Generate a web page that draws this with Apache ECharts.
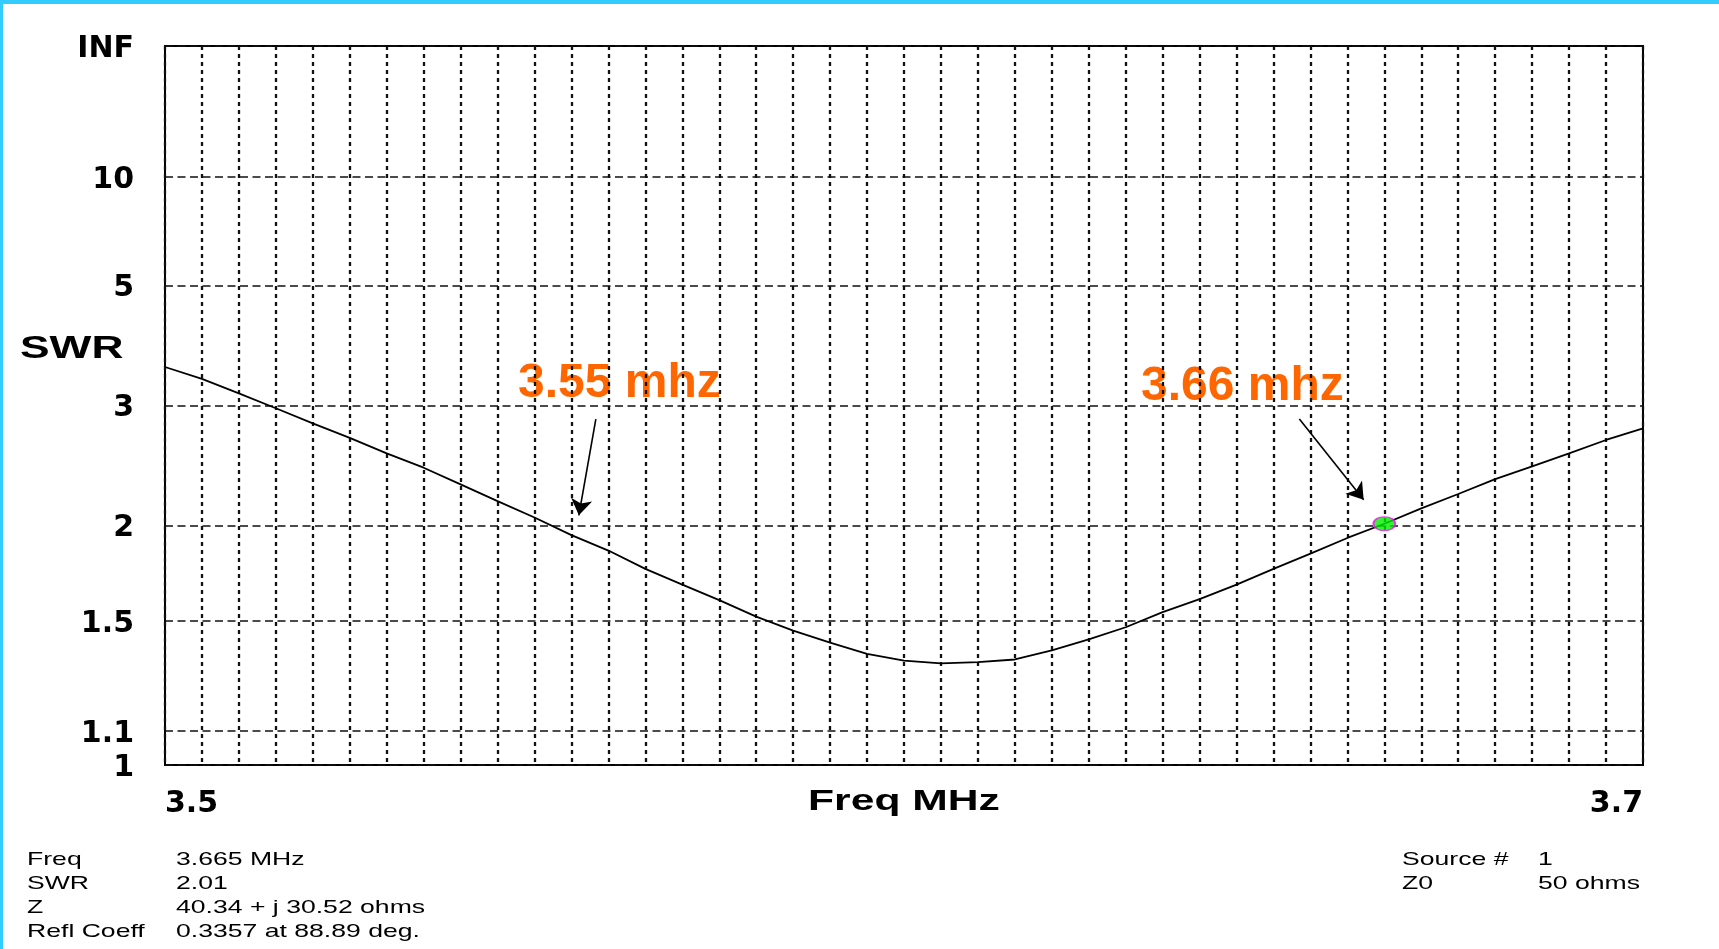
<!DOCTYPE html>
<html><head><meta charset="utf-8">
<script src="https://cdn.jsdelivr.net/npm/echarts@6/dist/echarts.min.js"></script>
<style>
html,body{margin:0;padding:0;background:#fff;overflow:hidden;}
#chart{position:absolute;left:0;top:0;width:1719px;height:949px;}
#bt{position:absolute;left:0;top:0;width:1719px;height:4px;background:#33CCFF;}
#bl{position:absolute;left:0;top:0;width:3px;height:949px;background:#33CCFF;}
</style></head><body>
<div id="chart"></div><div id="bt"></div><div id="bl"></div>
<script>
// ---- data ----
const freqs = [3.500,3.505,3.510,3.515,3.520,3.525,3.530,3.535,3.540,3.545,
               3.550,3.555,3.560,3.565,3.570,3.575,3.580,3.585,3.590,3.595,
               3.600,3.605,3.610,3.615,3.620,3.625,3.630,3.635,3.640,3.645,
               3.650,3.655,3.660,3.665,3.670,3.675,3.680,3.685,3.690,3.695,3.700];
const swrValues = [3.48,3.32,3.14,2.97,2.81,2.67,2.53,2.41,2.28,2.16,
                   2.05,1.94,1.85,1.75,1.67,1.595,1.52,1.46,1.41,1.366,
                   1.340,1.329,1.334,1.344,1.379,1.423,1.474,1.54,1.60,1.67,
                   1.75,1.833,1.923,2.01,2.11,2.21,2.32,2.42,2.53,2.65,2.76];
const yTickSWR = [1, 1.1, 1.5, 2, 3, 5, 10, Infinity];
const yTickLabels = ['1','1.1','1.5','2','3','5','10','INF'];
const xMin = 3.5, xMax = 3.7, xStep = 0.005;
const xTickLabels = ['3.5','3.7'];
const markerFreq = 3.665, markerSWR = 2.01;
const arrowFrom = [[3.5583, 2.854],[3.6535, 2.854]];
const arrowTo   = [[3.5560, 2.064],[3.6622, 2.17]];
const annotationTexts = ['3.55 mhz','3.66 mhz'];
const infoLabels = ['Freq','SWR','Z','Refl Coeff'];
const infoValues = ['3.665 MHz','2.01','40.34 + j 30.52 ohms','0.3357 at 88.89 deg.'];
const srcLabels = ['Source #','Z0'];
const srcValues = ['1','50 ohms'];
const yName = 'SWR', xName = 'Freq MHz';

// SWR chart uses reflection-coefficient scale
const rho = s => (s === Infinity ? 1 : (s - 1) / (s + 1));
const rhoTicks = yTickSWR.map(rho);
const lineData = freqs.map((f, i) => [f, rho(swrValues[i])]);

const chart = echarts.init(document.getElementById('chart'), null, {renderer:'canvas'});
const FONT = 'Liberation Sans, Arial, sans-serif';
const infoY = [860, 884, 908, 932];
const graphics = [];
graphics.push({type:'text', x:20, y:349, scaleX:1.43,
  style:{text:yName, font:'bold 31px '+FONT, fill:'#000', verticalAlign:'middle', align:'left'}});
graphics.push({type:'text', x:904, y:802, scaleX:1.47,
  style:{text:xName, font:'bold 29px '+FONT, fill:'#000', verticalAlign:'middle', align:'center'}});
const annPos = [[518,384],[1141,387]];
annotationTexts.forEach((t,i)=>graphics.push({type:'text', x:annPos[i][0], y:annPos[i][1],
  style:{text:t, font:'bold 48px '+FONT, fill:'#FF6600', verticalAlign:'middle', align:'left'}}));
const infoStyle = t => ({text:t, font:'18.6px '+FONT, fill:'#000', verticalAlign:'middle'});
infoLabels.forEach((t,i)=>graphics.push({type:'text', x:27, y:infoY[i], scaleX:1.43, style:infoStyle(t)}));
infoValues.forEach((t,i)=>graphics.push({type:'text', x:176, y:infoY[i], scaleX:1.43, style:infoStyle(t)}));
srcLabels.forEach((t,i)=>graphics.push({type:'text', x:1402, y:infoY[i], scaleX:1.43, style:infoStyle(t)}));
srcValues.forEach((t,i)=>graphics.push({type:'text', x:1538, y:infoY[i], scaleX:1.43, style:infoStyle(t)}));

chart.setOption({
  animation:false,
  backgroundColor:'#fff',
  grid:{left:165, right:76, top:46, bottom:184, show:true, borderColor:'#000', borderWidth:2, backgroundColor:'#fff'},
  xAxis:{type:'value', min:xMin, max:xMax, interval:xStep,
    axisLine:{show:false}, axisTick:{show:false},
    splitLine:{show:true, lineStyle:{color:'#111', width:2.3, type:[4,4]}},
    axisLabel:{fontFamily:'DejaVu Sans', fontWeight:'bold', fontSize:30, color:'#000', margin:24,
      alignMinLabel:'left', alignMaxLabel:'right', showMinLabel:true, showMaxLabel:true,
      formatter:v=>{ if (Math.abs(v-xMin)<1e-6) return xTickLabels[0]; if (Math.abs(v-xMax)<1e-6) return xTickLabels[1]; return ''; }}
  },
  yAxis:{type:'value', min:0, max:1,
    axisLine:{show:false},
    axisTick:{show:false, customValues:rhoTicks},
    splitLine:{show:true, lineStyle:{color:'#111', width:1.7, type:[8,4.5]}},
    axisLabel:{customValues:rhoTicks, fontFamily:'DejaVu Sans', fontWeight:'bold', fontSize:30, color:'#000', margin:31,
      verticalAlign:'top', lineHeight:6,
      formatter:v=>{ const i = rhoTicks.findIndex(r=>Math.abs(r-v)<1e-6); return i>=0 ? yTickLabels[i] : ''; }}
  },
  graphic:graphics,
  series:[
    {type:'line', data:lineData, showSymbol:false, smooth:false, silent:true,
     lineStyle:{color:'#000', width:1.8}, z:3,
     markLine:{silent:true, symbol:['none','arrow'], symbolSize:16, label:{show:false},
       lineStyle:{color:'#000', width:1.6, type:'solid'},
       data: arrowFrom.map((a,i)=>[{coord:[a[0], rho(a[1])]},{coord:[arrowTo[i][0], rho(arrowTo[i][1])]}])}
    },
    {type:'scatter', data:[[markerFreq, rho(markerSWR)]], symbol:'circle', symbolSize:[22,14], z:4, silent:true,
     itemStyle:{color:'#00EE00', borderColor:'#FF00FF', borderWidth:1.5}}
  ]
});
</script>
</body></html>
